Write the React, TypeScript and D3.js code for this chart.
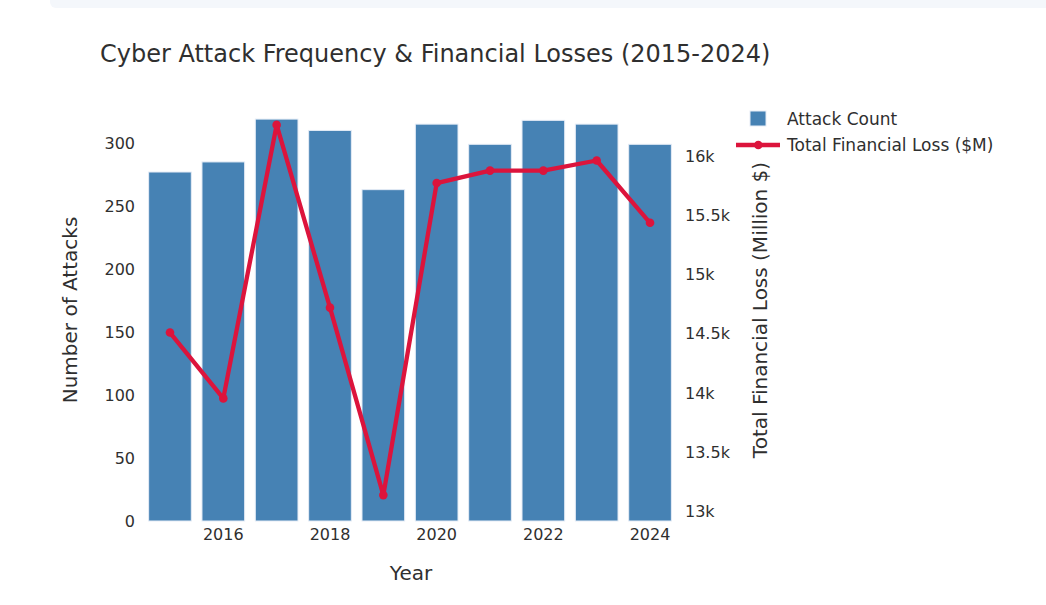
import React from 'react'
import * as d3 from 'd3'

// yearly figures
const years = [2015, 2016, 2017, 2018, 2019, 2020, 2021, 2022, 2023, 2024]
const attackCounts = [277, 285, 319, 310, 263, 315, 299, 318, 315, 299]
const financialLoss = [14510, 13955, 16260, 14720, 13140, 15770, 15875, 15875, 15960, 15435]

const countTicks = [0, 50, 100, 150, 200, 250, 300]
const lossTicks = [13000, 13500, 14000, 14500, 15000, 15500, 16000]
const yearTicks = [2016, 2018, 2020, 2022, 2024]

const seriesNames = ['Attack Count', 'Total Financial Loss ($M)']

const W = 1046
const H = 605
const margin = { left: 143.3, right: 676.7, top: 99, bottom: 521 }
const font = '"DejaVu Sans", Verdana, sans-serif'
const textColor = '#2f2f2f'
const barColor = '#4682b4'
const lineColor = '#dc143c'

const fmtK = (v: number) => (v / 1000) + 'k'

export default function App() {
  const x = d3.scaleBand<number>()
    .domain(years)
    .range([margin.left, margin.right])
    .paddingInner(0.2)
    .paddingOuter(0.1)

  const y = d3.scaleLinear()
    .domain([0, (d3.max(attackCounts) as number) * 1.05])
    .range([margin.bottom, margin.top])

  // pad the loss axis a little on both sides, like an autoranged line axis
  const [lo, hi] = d3.extent(financialLoss) as [number, number]
  const pad = (hi - lo) * 0.07
  const y2 = d3.scaleLinear()
    .domain([lo - pad, hi + pad])
    .range([margin.bottom, margin.top])

  const cx = (yr: number) => (x(yr) as number) + x.bandwidth() / 2

  const line = d3.line<number>()
    .x((d, i) => cx(years[i]))
    .y(d => y2(d))

  const midY = (margin.top + margin.bottom) / 2

  return (
    <div style={{ position: 'absolute', left: 0, top: 0 }}>
      <svg width={W} height={H} style={{ display: 'block', background: '#fff' }} fontFamily={font}>
        <rect x={50} y={-10} width={1010} height={18} rx={6} fill="#f4f7fb" />

        <text x={100} y={62} fontSize={24} fill={textColor}>
          Cyber Attack Frequency &amp; Financial Losses (2015-2024)
        </text>

        {/* bars */}
        <g>
          {attackCounts.map((v, i) => (
            <rect key={years[i]}
              x={x(years[i])}
              y={y(v)}
              width={x.bandwidth()}
              height={y(0) - y(v)}
              fill={barColor}
              stroke="#e5ecf6"
              strokeWidth={1}
            />
          ))}
        </g>

        {/* loss line */}
        <path d={line(financialLoss) as string} fill="none" stroke={lineColor} strokeWidth={4.3} strokeLinejoin="round" />
        {financialLoss.map((v, i) => (
          <circle key={years[i]} cx={cx(years[i])} cy={y2(v)} r={4.3} fill={lineColor} />
        ))}

        {/* left axis */}
        <g fontSize={16} fill={textColor}>
          {countTicks.map(t => (
            <text key={t} x={135} y={y(t)} dy="0.36em" textAnchor="end">{t}</text>
          ))}
        </g>
        <text transform={`translate(76.5,${midY}) rotate(-90)`}
          fontSize={20} fill={textColor} textAnchor="middle">Number of Attacks</text>

        {/* right axis */}
        <g fontSize={16} fill={textColor}>
          {lossTicks.map(t => (
            <text key={t} x={685} y={y2(t)} dy="0.36em" textAnchor="start">{fmtK(t)}</text>
          ))}
        </g>
        <text transform={`translate(767,${midY}) rotate(-90)`}
          fontSize={20} fill={textColor} textAnchor="middle">Total Financial Loss (Million $)</text>

        {/* x axis */}
        <g fontSize={16} fill={textColor}>
          {yearTicks.map(t => (
            <text key={t} x={cx(t)} y={540} textAnchor="middle">{t}</text>
          ))}
        </g>
        <text x={(margin.left + margin.right) / 2 + 1} y={579.5} fontSize={20} fill={textColor} textAnchor="middle">Year</text>

        {/* legend */}
        <g fontSize={17} fill={textColor}>
          <rect x={750} y={111} width={16} height={15} fill={barColor} stroke="#e5ecf6" strokeWidth={1} />
          <text x={787} y={119} dy="0.36em">{seriesNames[0]}</text>
          <line x1={736} x2={780} y1={145} y2={145} stroke={lineColor} strokeWidth={4.3} />
          <circle cx={758.3} cy={145} r={4.3} fill={lineColor} />
          <text x={787} y={145} dy="0.36em">{seriesNames[1]}</text>
        </g>
      </svg>
    </div>
  )
}
